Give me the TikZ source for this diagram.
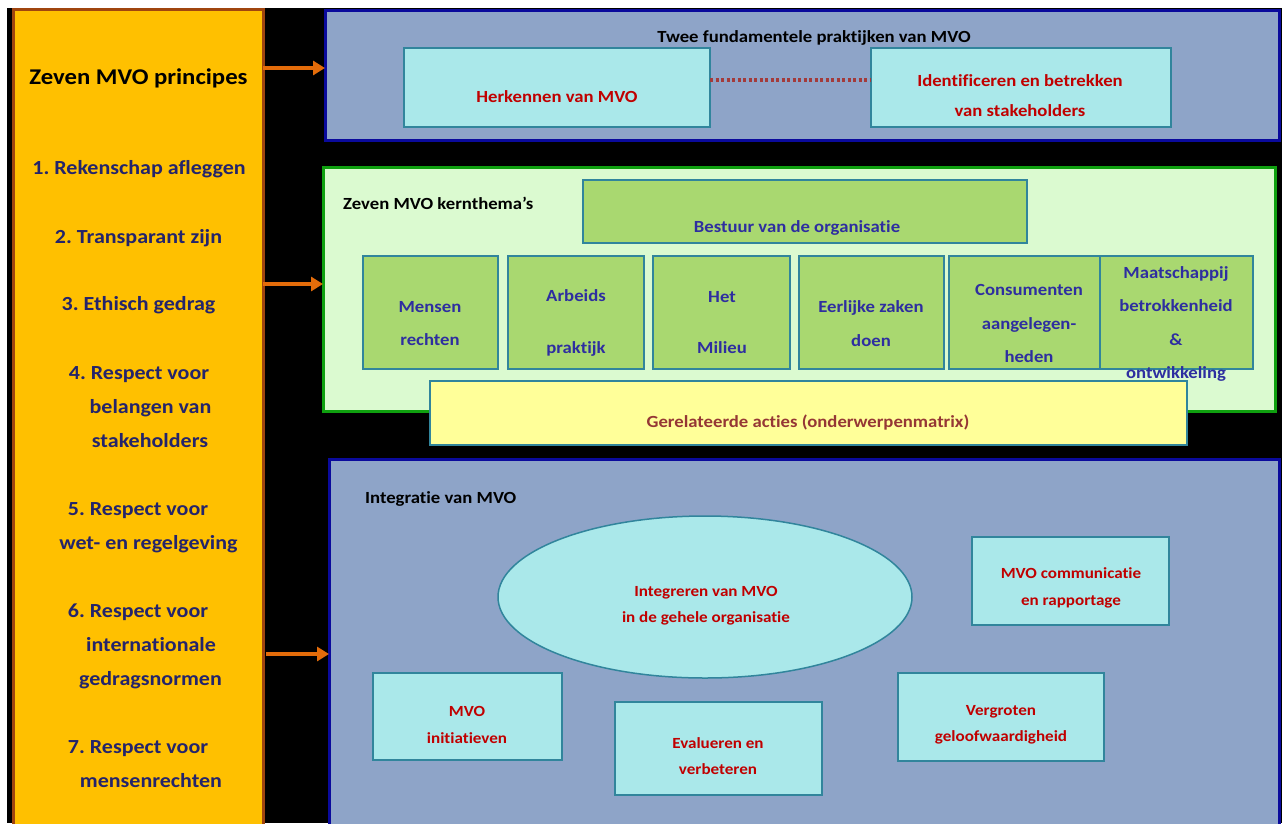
\documentclass[tikz,border=0pt]{standalone}
\usepackage{fontspec}
\setmainfont[FakeStretch=1.1,Ligatures={NoCommon,NoRare}]{Carlito}
\frenchspacing
\usetikzlibrary{arrows.meta,shapes.geometric}
\definecolor{orgfill}{HTML}{FFC000}
\definecolor{orgdraw}{HTML}{A0450F}
\definecolor{bluefill}{HTML}{8EA4C8}
\definecolor{bluedraw}{HTML}{0A0A9C}
\definecolor{cyanfill}{HTML}{AAE8EA}
\definecolor{tealdraw}{HTML}{31859C}
\definecolor{greendraw}{HTML}{0FA00F}
\definecolor{greenfill}{HTML}{DBFAD0}
\definecolor{leaf}{HTML}{A9D870}
\definecolor{yel}{HTML}{FFFF99}
\definecolor{redtxt}{HTML}{C00000}
\definecolor{navytxt}{HTML}{24246B}
\definecolor{bluetxt}{HTML}{2E2EA0}
\definecolor{browntxt}{HTML}{953735}
\definecolor{arrowc}{HTML}{E46C0A}
\definecolor{dotc}{HTML}{A33B3B}
\tikzset{
  box/.style={anchor=north west, inner sep=0pt, outer sep=0pt},
  panel/.style={box, line width=3pt},
  cyanbox/.style={box, fill=cyanfill, draw=tealdraw, line width=1.5pt},
  leafbox/.style={box, fill=leaf, draw=tealdraw, line width=1.5pt},
  ltitle/.style={inner sep=0pt, font=\fontsize{22.5}{27}\selectfont\bfseries, text=black},
  litem/.style={inner sep=0pt, anchor=base, font=\fontsize{20}{24}\selectfont\bfseries, text=navytxt},
  rtxt/.style={inner sep=0pt, align=center, font=\fontsize{17}{30}\selectfont\bfseries, text=redtxt},
  mtxt/.style={inner sep=0pt, align=center, font=\fontsize{17}{33.5}\selectfont\bfseries, text=bluetxt},
  btxt/.style={inner sep=0pt, align=center, font=\fontsize{15.5}{26.5}\selectfont\bfseries, text=redtxt},
  htxt/.style={inner sep=0pt, font=\fontsize{17}{20}\selectfont\bfseries, text=black},
  arr/.style={draw=arrowc, line width=4pt, -{Triangle[length=12pt,width=14pt]}},
}
\begin{document}
\begin{tikzpicture}[x=1pt,y=-1pt]
\useasboundingbox (0,0) rectangle (1282,823);
\fill[black] (7,8) rectangle (1282,823);
\begin{scope}
\clip (0,0) rectangle (1282,823);
% left column
\node[panel, fill=orgfill, draw=orgdraw, minimum width=250, minimum height=830] (left) at (13,9) {};
% panels
\node[panel, fill=bluefill, draw=bluedraw, minimum width=954, minimum height=130] (top) at (325,10) {};
\node[panel, fill=greenfill, draw=greendraw, minimum width=952, minimum height=244] (mid) at (323,167) {};
\node[panel, fill=bluefill, draw=bluedraw, minimum width=950, minimum height=380] (bot) at (329,459) {};
\end{scope}

% left texts
\node[ltitle] (ptitle) at (138.5,78) {Zeven MVO principes};
\node[litem] (p1) at (139,174) {1. Rekenschap afleggen};
\node[litem] (p2) at (138.5,243) {2. Transparant zijn};
\node[litem] (p3) at (138.5,310) {3. Ethisch gedrag};
\node[litem] (p4a) at (139,379) {4. Respect voor};
\node[litem] (p4b) at (150.5,413) {belangen van};
\node[litem] (p4c) at (150,447) {stakeholders};
\node[litem] (p5a) at (138,515) {5. Respect voor};
\node[litem] (p5b) at (148.5,549) {wet- en regelgeving};
\node[litem] (p6a) at (138,617) {6. Respect voor};
\node[litem] (p6b) at (151,651) {internationale};
\node[litem] (p6c) at (150.5,685) {gedragsnormen};
\node[litem] (p7a) at (138,753) {7. Respect voor};
\node[litem] (p7b) at (151,787) {mensenrechten};

% top panel
\node[htxt] (ttitle) at (814,38) {Twee fundamentele praktijken van MVO};
\node[cyanbox, minimum width=306, minimum height=79] (herk) at (404,48) {};
\node[cyanbox, minimum width=300, minimum height=79] (ident) at (871,48) {};
\node[rtxt] (herkt) at (557,97) {Herkennen van MVO};
\node[rtxt] (identt) at (1020,96) {Identificeren en betrekken\\van stakeholders};
\draw[dotc, line width=3.5pt, dash pattern=on 3pt off 2.5pt] ([yshift=7.5pt]herk.east) -- ([yshift=7.5pt]ident.west);

% middle panel
\node[htxt, anchor=west] (mtitle) at (343,203) {Zeven MVO kernthema’s};
\node[leafbox, minimum width=444, minimum height=63] (best) at (583,180) {};
\node[mtxt] (bestt) at (797,228) {Bestuur van de organisatie};
\node[leafbox, minimum width=135, minimum height=113] (mr) at (363,256) {};
\node[leafbox, minimum width=136, minimum height=113] (ap) at (508,256) {};
\node[leafbox, minimum width=137, minimum height=113] (hm) at (653,256) {};
\node[leafbox, minimum width=145, minimum height=113] (ez) at (799,256) {};
\node[leafbox, minimum width=151, minimum height=113] (ca) at (949,256) {};
\node[leafbox, minimum width=153, minimum height=113] (mb) at (1100,256) {};
\node[mtxt] (mrt) at (430,323.5) {Mensen\\rechten};
\node[mtxt, font=\fontsize{17}{52}\selectfont\bfseries] (apt) at (576,323) {Arbeids\\praktijk};
\node[mtxt, font=\fontsize{17}{51}\selectfont\bfseries] (hmt) at (722,322.5) {Het\\Milieu};
\node[mtxt] (ezt) at (871,323.5) {Eerlijke zaken\\doen};
\node[mtxt] (cat) at (1029,323.5) {Consumenten\\aangelegen-\\heden};
\node[mtxt] (mbt) at (1176,324) {Maatschappij\\betrokkenheid\\\&\\ontwikkeling};
\node[box, fill=yel, draw=tealdraw, line width=1.5pt, minimum width=757, minimum height=64] (yel) at (430,381) {};
\node[mtxt, text=browntxt] (yelt) at (808,423) {Gerelateerde acties (onderwerpenmatrix)};

% bottom panel
\node[htxt, anchor=west] (btitle) at (365,499) {Integratie van MVO};
\node[ellipse, fill=cyanfill, draw=tealdraw, line width=1.5pt, minimum width=414, minimum height=162, inner sep=0pt] (ell) at (705,597) {};
\node[btxt] (ellt) at (706,605.5) {Integreren van MVO\\in de gehele organisatie};
\node[cyanbox, minimum width=197, minimum height=88] (comm) at (972,537) {};
\node[btxt] (commt) at (1071,588) {MVO communicatie\\en rapportage};
\node[cyanbox, minimum width=189, minimum height=87] (init) at (373,673) {};
\node[btxt] (initt) at (467,725) {MVO\\initiatieven};
\node[cyanbox, minimum width=207, minimum height=93] (eval) at (615,702) {};
\node[btxt] (evalt) at (718,756) {Evalueren en\\verbeteren};
\node[cyanbox, minimum width=206, minimum height=88] (verg) at (898,673) {};
\node[btxt] (vergt) at (1001,725) {Vergroten\\geloofwaardigheid};

% arrows
\draw[arr] (left.east |- 0,68) -- (top.west |- 0,68);
\draw[arr] (left.east |- 0,284) -- (mid.west |- 0,284);
\draw[arr] ([xshift=3pt]left.east |- 0,654) -- (bot.west |- 0,654);
\end{tikzpicture}
\end{document}
